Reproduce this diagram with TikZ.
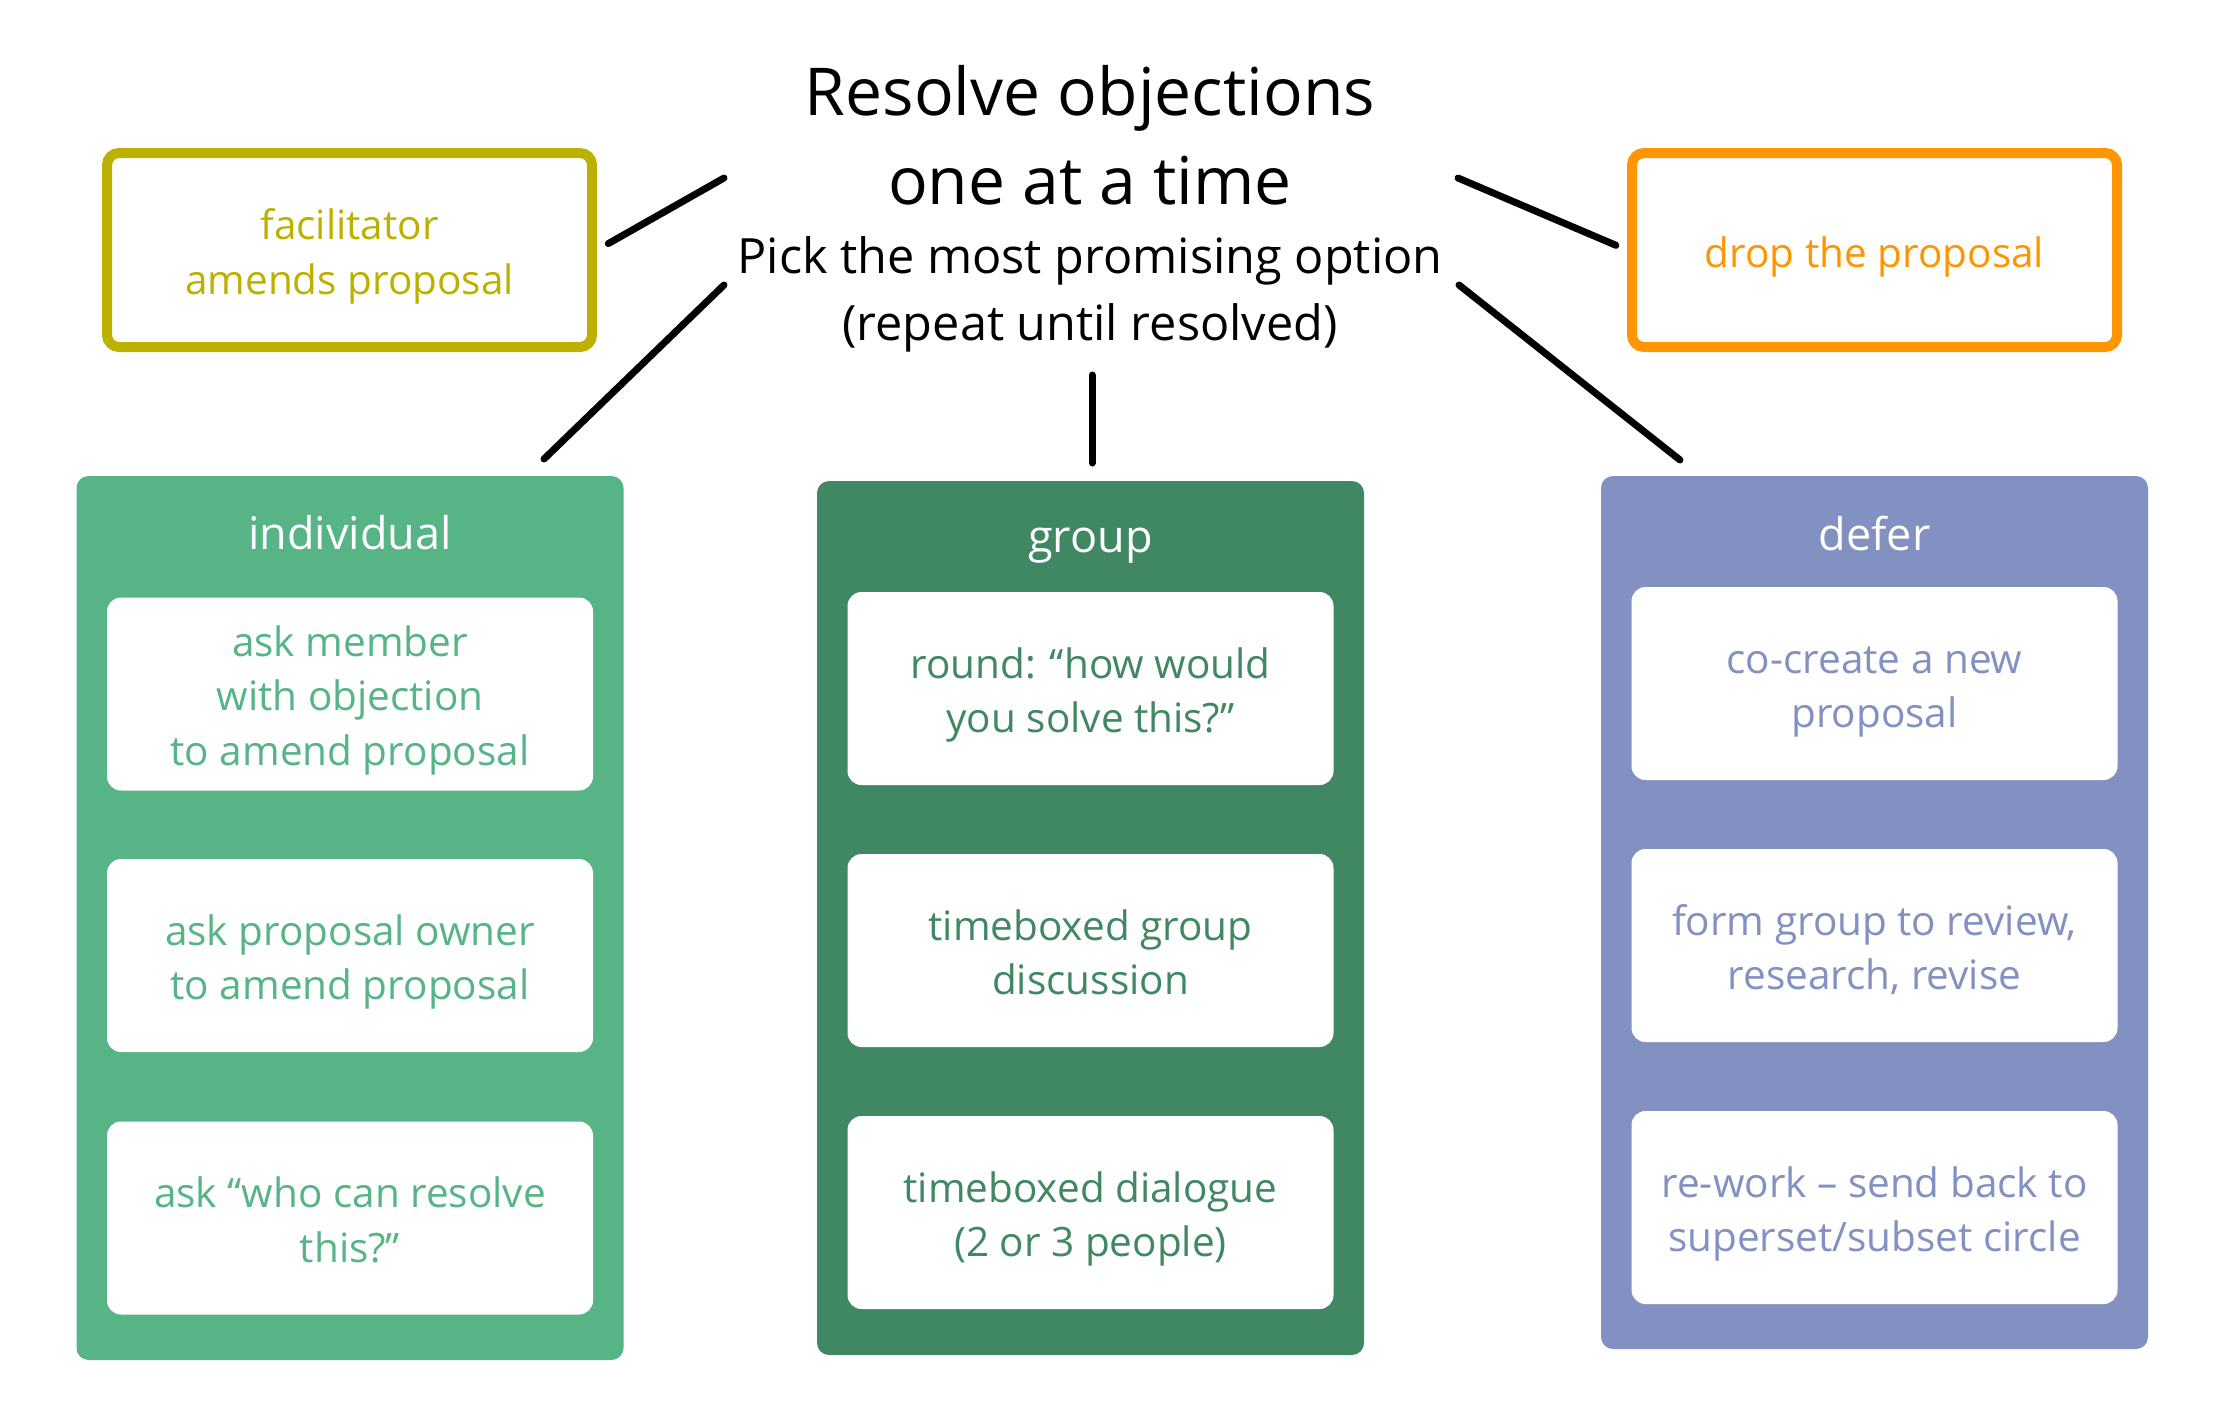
\documentclass[tikz,border=0pt]{standalone}
\usepackage{fontspec}
\setmainfont{Open Sans}
\definecolor{cOlive}{HTML}{BDB100}
\definecolor{cOrange}{HTML}{FF9500}
\definecolor{cInd}{HTML}{56B486}
\definecolor{cGrp}{HTML}{408863}
\definecolor{cDef}{HTML}{8291C1}
\newcommand{\boxtext}[1]{\raisebox{-6pt}[\height][\depth]{\begin{tabular}{@{}c@{}}#1\end{tabular}}}
\tikzset{
  panel/.style={rectangle, rounded corners=12pt, minimum width=547pt, inner sep=0pt},
  card/.style={rectangle, fill=white, rounded corners=14pt, minimum width=486pt, minimum height=193pt,
    inner sep=0pt, font=\fontsize{40.5}{54.5}\selectfont},
  ptitle/.style={anchor=base, text=white, inner sep=0pt, font=\fontsize{45}{54}\selectfont},
  sidebox/.style={rectangle, draw, line width=10pt, rounded corners=12pt, fill=white,
    minimum width=485pt, minimum height=194pt, inner sep=0pt,
    font=\fontsize{40.5}{55}\selectfont},
  bigtitle/.style={anchor=base, inner sep=0pt, font=\fontsize{66}{89}\selectfont},
  subtitle/.style={anchor=base, inner sep=0pt, font=\fontsize{48.6}{67}\selectfont},
  link/.style={line width=7pt, line cap=round},
}
\begin{document}
\begin{tikzpicture}[x=1pt,y=-1pt]
\useasboundingbox[fill=white] (0,0) rectangle (2216,1419);

% title
\node[bigtitle] (t1) at (1090,115) {Resolve objections};
\node[bigtitle] (t2) at (1090,204) {one at a time};
\node[subtitle] (s1) at (1090,273) {Pick the most promising option};
\node[subtitle] (s2) at (1090,340) {(repeat until resolved)};

% side boxes
\node[sidebox, draw=cOlive, text=cOlive] (fac) at (349.5,250) {\boxtext{facilitator\\amends proposal}};
\node[sidebox, draw=cOrange, text=cOrange] (drop) at (1874.5,250) {\boxtext{drop the proposal}};

% panels
\node[panel, fill=cInd, minimum height=884pt] (ind) at (350,918) {};
\node[panel, fill=cGrp, minimum height=874pt] (grp) at (1090.5,918) {};
\node[panel, fill=cDef, minimum height=873pt] (def) at (1874.5,912.5) {};

\node[ptitle] (indt) at (350,549) {individual};
\node[ptitle] (grpt) at (1090.5,552) {group};
\node[ptitle] (deft) at (1874.5,550) {defer};

% cards
\node[card, text=cInd] (i1) at (350,694) {\boxtext{ask member\\with objection\\to amend proposal}};
\node[card, text=cInd] (i2) at (350,955.5) {\boxtext{ask proposal owner\\to amend proposal}};
\node[card, text=cInd] (i3) at (350,1218) {\boxtext{ask “who can resolve\\this?”}};

\node[card, text=cGrp] (g1) at (1090.5,688.5) {\boxtext{round: “how would\\you solve this?”}};
\node[card, text=cGrp] (g2) at (1090.5,950.5) {\boxtext{timeboxed group\\discussion}};
\node[card, text=cGrp] (g3) at (1090.5,1212.5) {\boxtext{timeboxed dialogue\\(2 or 3 people)}};

\node[card, text=cDef] (d1) at (1874.5,683.5) {\boxtext{co-create a new\\proposal}};
\node[card, text=cDef] (d2) at (1874.5,945.5) {\boxtext{form group to review,\\research, revise}};
\node[card, text=cDef] (d3) at (1874.5,1207.5) {\boxtext{re-work – send back to\\superset/subset circle}};

% connector ends
\coordinate (ltop) at (724,178);
\coordinate (lbot) at (724,285);
\coordinate (rtop) at (1458,178);
\coordinate (rbot) at (1459,285);
\coordinate (cbot) at (1092,375);
\coordinate (indin) at (544,459);
\coordinate (grpin) at (1092,463);
\coordinate (defin) at (1680,460);

\draw[link, shorten >=13pt] (ltop) -- (fac.east);
\draw[link, shorten >=12pt] (rtop) -- (drop.west);
\draw[link] (lbot) -- (indin);
\draw[link] (cbot) -- (grpin);
\draw[link] (rbot) -- (defin);
\end{tikzpicture}
\end{document}
